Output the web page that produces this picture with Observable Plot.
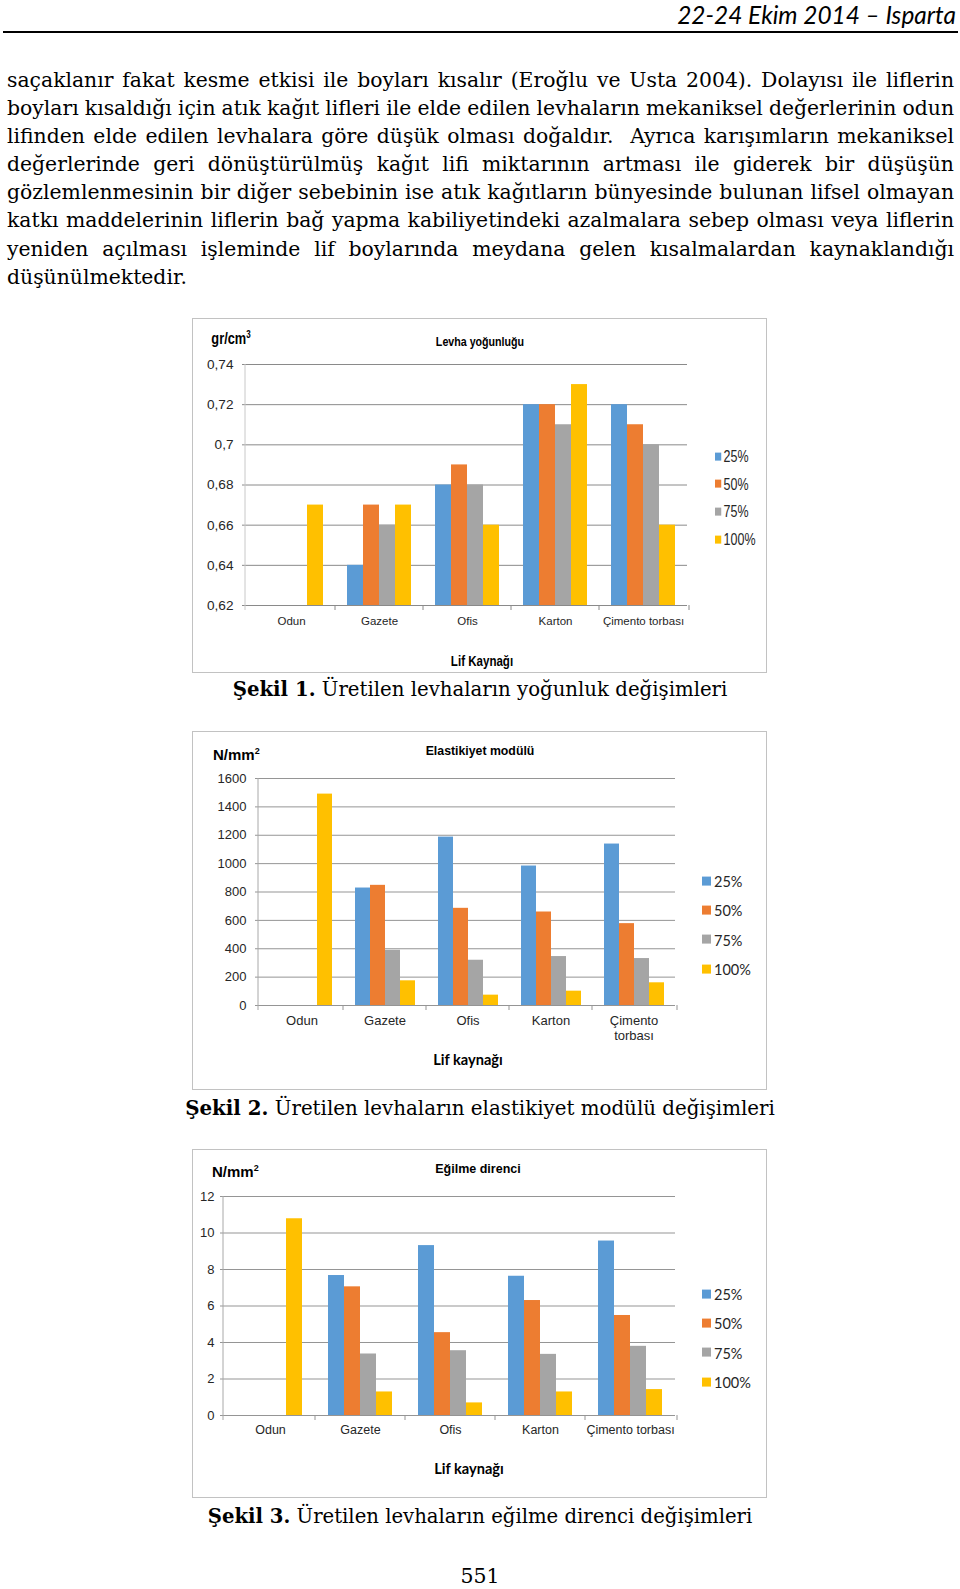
<!DOCTYPE html>
<html><head><meta charset="utf-8">
<script src="https://cdn.jsdelivr.net/npm/d3@7"></script>
<script src="https://cdn.jsdelivr.net/npm/@observablehq/plot@0.6"></script>
<style>
html,body{margin:0;padding:0;background:#fff;}
body{width:960px;height:1589px;position:relative;overflow:hidden;font-family:"DejaVu Serif",serif;color:#000;}
.abs{position:absolute;white-space:nowrap;}
#rule{left:3px;width:955px;top:31px;height:2px;background:#000;}
#body{position:absolute;left:7px;top:66px;width:947px;line-height:28.1px;}
#body div{white-space:pre;}
.frame{position:absolute;box-sizing:border-box;border:1.5px solid #c2c2c2;}
svg{position:absolute;}
</style>
</head><body>
<div id="rule" class="abs"></div>
<div id="body"></div>
<script>
// ---------- data ----------
const categories = ["Odun", "Gazete", "Ofis", "Karton", "Çimento torbası"];
const series = ["25%", "50%", "75%", "100%"];
const colors = ["#5B9BD5", "#ED7D31", "#A5A5A5", "#FFC000"];

// Şekil 1 – Levha yoğunluğu (gr/cm3)
const density25  = [null, 0.64, 0.68, 0.72, 0.72];
const density50  = [null, 0.67, 0.69, 0.72, 0.71];
const density75  = [null, 0.66, 0.68, 0.71, 0.70];
const density100 = [0.67, 0.67, 0.66, 0.73, 0.66];
const densityTicks = [0.62, 0.64, 0.66, 0.68, 0.70, 0.72, 0.74];
const densityXLabels = ["Odun", "Gazete", "Ofis", "Karton", "Çimento torbası"];

// Şekil 2 – Elastikiyet modülü (N/mm2)
const moe25  = [null, 828, 1187, 983, 1138];
const moe50  = [null, 847, 685, 659, 577];
const moe75  = [null, 389, 319, 345, 331];
const moe100 = [1490, 174, 73, 101, 160];
const moeTicks = [0, 200, 400, 600, 800, 1000, 1200, 1400, 1600];
const moeXLabels = ["Odun", "Gazete", "Ofis", "Karton", "Çimento\ntorbası"];

// Şekil 3 – Eğilme direnci (N/mm2)
const mor25  = [null, 7.67, 9.31, 7.63, 9.56];
const mor50  = [null, 7.05, 4.54, 6.30, 5.48];
const mor75  = [null, 3.37, 3.55, 3.35, 3.79];
const mor100 = [10.78, 1.29, 0.69, 1.29, 1.42];
const morTicks = [0, 2, 4, 6, 8, 10, 12];
const morXLabels = ["Odun", "Gazete", "Ofis", "Karton", "Çimento torbası"];

const bodyLines = [
  "saçaklanır fakat kesme etkisi ile boyları kısalır (Eroğlu ve Usta 2004). Dolayısı ile liflerin",
  "boyları kısaldığı için atık kağıt lifleri ile elde edilen levhaların mekaniksel değerlerinin odun",
  "lifinden elde edilen levhalara göre düşük olması doğaldır.  Ayrıca karışımların mekaniksel",
  "değerlerinde geri dönüştürülmüş kağıt lifi miktarının artması ile giderek bir düşüşün",
  "gözlemlenmesinin bir diğer sebebinin ise atık kağıtların bünyesinde bulunan lifsel olmayan",
  "katkı maddelerinin liflerin bağ yapma kabiliyetindeki azalmalara sebep olması veya liflerin",
  "yeniden açılması işleminde lif boylarında meydana gelen kısalmalardan kaynaklandığı",
  "düşünülmektedir."
];

// ---------- helpers ----------
function label(html, x, y, style, anchor = "center", sx = 1) {
  const d = document.createElement("div");
  d.className = "abs";
  d.innerHTML = html;
  d.style.left = x + "px";
  d.style.top = y + "px";
  d.style.lineHeight = "1";
  const tx = anchor === "center" ? "-50%" : anchor === "right" ? "-100%" : "0";
  d.style.transformOrigin = anchor === "center" ? "50% 50%" : anchor === "right" ? "100% 50%" : "0 50%";
  d.style.transform = `translate(${tx},-50%) scaleX(${sx})`;
  Object.assign(d.style, style);
  document.body.appendChild(d);
  return d;
}
// scale the font size so that the element's width equals the target width
function fitWidth(el, target) {
  const fs = parseFloat(getComputedStyle(el).fontSize);
  const w = el.getBoundingClientRect().width;
  el.style.fontSize = (fs * target / w) + "px";
}

// ---------- page text ----------
const header = label("22-24 Ekim 2014 – Isparta", 956, 14, {font: "italic 24px Lato,sans-serif"}, "right");
fitWidth(header, 279);

// body: calibrate font size so glyph widths match the original, then justify each line
const bodyEl = document.getElementById("body");
const probe = document.createElement("span");
probe.style.cssText = "position:absolute;visibility:hidden;white-space:pre;font:100px 'DejaVu Serif',serif";
probe.textContent = bodyLines[bodyLines.length - 1];
document.body.appendChild(probe);
const bodyFs = 100 * 180 / probe.getBoundingClientRect().width;
probe.remove();
bodyEl.style.fontSize = bodyFs + "px";
bodyLines.forEach((t, i) => {
  const d = document.createElement("div");
  const s = document.createElement("span");
  s.textContent = t;
  d.appendChild(s);
  bodyEl.appendChild(d);
  if (i < bodyLines.length - 1) {
    const w = s.getBoundingClientRect().width;
    const nSp = (t.match(/ /g) || []).length;
    d.style.wordSpacing = ((947 - w) / nSp) + "px";
  }
});

// ---------- chart builder ----------
function buildChart(cfg) {
  const {frame, plotBox, values, ticks, fmt, xLabels, q, yFont, xFont, yTickPad, xTickPad, grid, axisLine, textColor} = cfg;
  const fr = document.createElement("div");
  fr.className = "frame";
  Object.assign(fr.style, {left: frame[0] + "px", top: frame[1] + "px", width: frame[2] + "px", height: frame[3] + "px"});
  document.body.appendChild(fr);

  const rows = [];
  categories.forEach((c, i) => series.forEach((s, j) => rows.push({cat: c, s, v: values[j][i]})));
  const yDomain = [ticks[0], ticks[ticks.length - 1]];
  const mL = plotBox[0] - frame[0], mT = plotBox[1] - frame[1];
  const mR = frame[0] + frame[2] - plotBox[2], mB = frame[1] + frame[3] - plotBox[3];

  const plot = Plot.plot({
    width: frame[2], height: frame[3],
    marginLeft: mL, marginRight: mR, marginTop: mT, marginBottom: mB,
    style: {background: "transparent", overflow: "visible"},
    fx: {domain: categories, padding: 0, label: null},
    x: {domain: series, paddingInner: 0, paddingOuter: q, axis: null},
    y: {domain: yDomain, label: null},
    color: {domain: series, range: colors},
    marks: [
      Plot.gridY(ticks, {stroke: grid, strokeOpacity: 1, strokeWidth: 1}),
      Plot.barY(rows, {fx: "cat", x: "s", y1: yDomain[0], y2: "v", fill: "s"}),
      Plot.ruleY([yDomain[0]], {stroke: grid, strokeWidth: 1}),
      Plot.axisY(ticks, {anchor: "left", tickSize: 5, tickPadding: yTickPad, tickFormat: fmt, label: null,
        stroke: grid, fill: textColor, fontSize: yFont[1], fontFamily: yFont[0]}),
      Plot.axisFx({anchor: "bottom", tickSize: 0, tickPadding: xTickPad, label: null,
        tickFormat: d => xLabels[categories.indexOf(d)], fill: textColor, fontSize: xFont[1], fontFamily: xFont[0], lineHeight: 1.15})
    ]
  });
  plot.style.left = frame[0] + "px";
  plot.style.top = frame[1] + "px";
  document.body.appendChild(plot);

  // vertical value axis line and category boundary ticks (from Plot's own scales)
  const svg = d3.select(plot);
  const y = plot.scale("y");
  const fx = plot.scale("fx");
  const yb = y.apply(yDomain[0]), yt = y.apply(yDomain[1]);
  const xl = mL, xr = frame[2] - mR;
  svg.append("line").attr("x1", xl).attr("x2", xl).attr("y1", yt).attr("y2", yb + 5)
    .attr("stroke", axisLine).attr("stroke-width", 1);
  const bounds = categories.map(c => fx.apply(c)).slice(1).concat([xr]);
  bounds.forEach(bx => svg.append("line").attr("x1", bx).attr("x2", bx).attr("y1", yb).attr("y2", yb + 5)
    .attr("stroke", grid).attr("stroke-width", 1));
  return plot;
}

function legend(x, y0, step, sw, font, textColor, sx = 1) {
  series.forEach((s, i) => {
    label(`<span style="display:inline-block;width:${sw}px;height:${sw}px;background:${colors[i]};margin-right:3px;vertical-align:middle;position:relative;top:-1px"></span><span style="vertical-align:middle">${s}</span>`,
      x, y0 + i * step, {font: font, color: textColor}, "left", sx);
  });
}
function caption(num, rest, y, target) {
  const c = label(`<b>Şekil ${num}.</b> ${rest}`, 480, y, {font: "20px 'DejaVu Serif',serif"});
  fitWidth(c, target);
}

const commaFmt = d => d3.format(".2~f")(d).replace(".", ",");
const sans = "'Liberation Sans',Arial,sans-serif";

// Chart 1
buildChart({
  frame: [192, 318, 575, 355], plotBox: [245, 364, 689, 605],
  values: [density25, density50, density75, density100], ticks: densityTicks, fmt: commaFmt,
  xLabels: densityXLabels, q: 0.74,
  yFont: [sans, 13.6], xFont: [sans, 11.5],
  yTickPad: 9, xTickPad: 10, grid: "#8a8a8a", axisLine: "#c8c8c8", textColor: "#262626"
});
label("gr/cm<sup style='font-size:10px;vertical-align:6px'>3</sup>", 231, 338, {font: `bold 16px ${sans}`}, "center", 0.8);
label("Levha yoğunluğu", 480, 341, {font: `bold 13px ${sans}`}, "center", 0.82);
label("Lif Kaynağı", 482, 660, {font: `bold 15px ${sans}`}, "center", 0.77);
legend(715, 457, 27.6, 8, `16px ${sans}`, "#262626", 0.78);
caption(1, "Üretilen levhaların yoğunluk değişimleri", 689, 495);

// Chart 2
buildChart({
  frame: [192, 731, 575, 359], plotBox: [258, 778, 677, 1005],
  values: [moe25, moe50, moe75, moe100], ticks: moeTicks, fmt: d => String(d),
  xLabels: moeXLabels, q: 0.667,
  yFont: [sans, 13], xFont: [sans, 13],
  yTickPad: 9, xTickPad: 9, grid: "#959595", axisLine: "#a8a8a8", textColor: "#262626"
});
label("N/mm<sup style='font-size:9px;vertical-align:6px'>2</sup>", 213, 754, {font: `bold 15px ${sans}`}, "left");
label("Elastikiyet modülü", 480, 751, {font: `bold 12.3px ${sans}`});
label("Lif kaynağı", 468, 1059, {font: "bold 14.6px Lato,sans-serif"});
legend(702, 881, 29.3, 9, "14.5px Lato,sans-serif", "#262626");
caption(2, "Üretilen levhaların elastikiyet modülü değişimleri", 1108, 590);

// Chart 3
buildChart({
  frame: [192, 1149, 575, 349], plotBox: [223, 1196, 677, 1415],
  values: [mor25, mor50, mor75, mor100], ticks: morTicks, fmt: d => String(d),
  xLabels: morXLabels, q: 0.74,
  yFont: [sans, 13], xFont: [sans, 12.5],
  yTickPad: 6, xTickPad: 8, grid: "#959595", axisLine: "#a8a8a8", textColor: "#262626"
});
label("N/mm<sup style='font-size:9px;vertical-align:6px'>2</sup>", 212, 1171, {font: `bold 15px ${sans}`}, "left");
label("Eğilme direnci", 478, 1169, {font: `bold 12.5px ${sans}`});
label("Lif kaynağı", 469, 1468, {font: "bold 14.6px Lato,sans-serif"});
legend(702, 1294, 29.3, 9, "14.5px Lato,sans-serif", "#262626");
caption(3, "Üretilen levhaların eğilme direnci değişimleri", 1516, 545);

label("551", 480, 1576, {font: "20.5px 'DejaVu Serif',serif"});
</script>
</body></html>
